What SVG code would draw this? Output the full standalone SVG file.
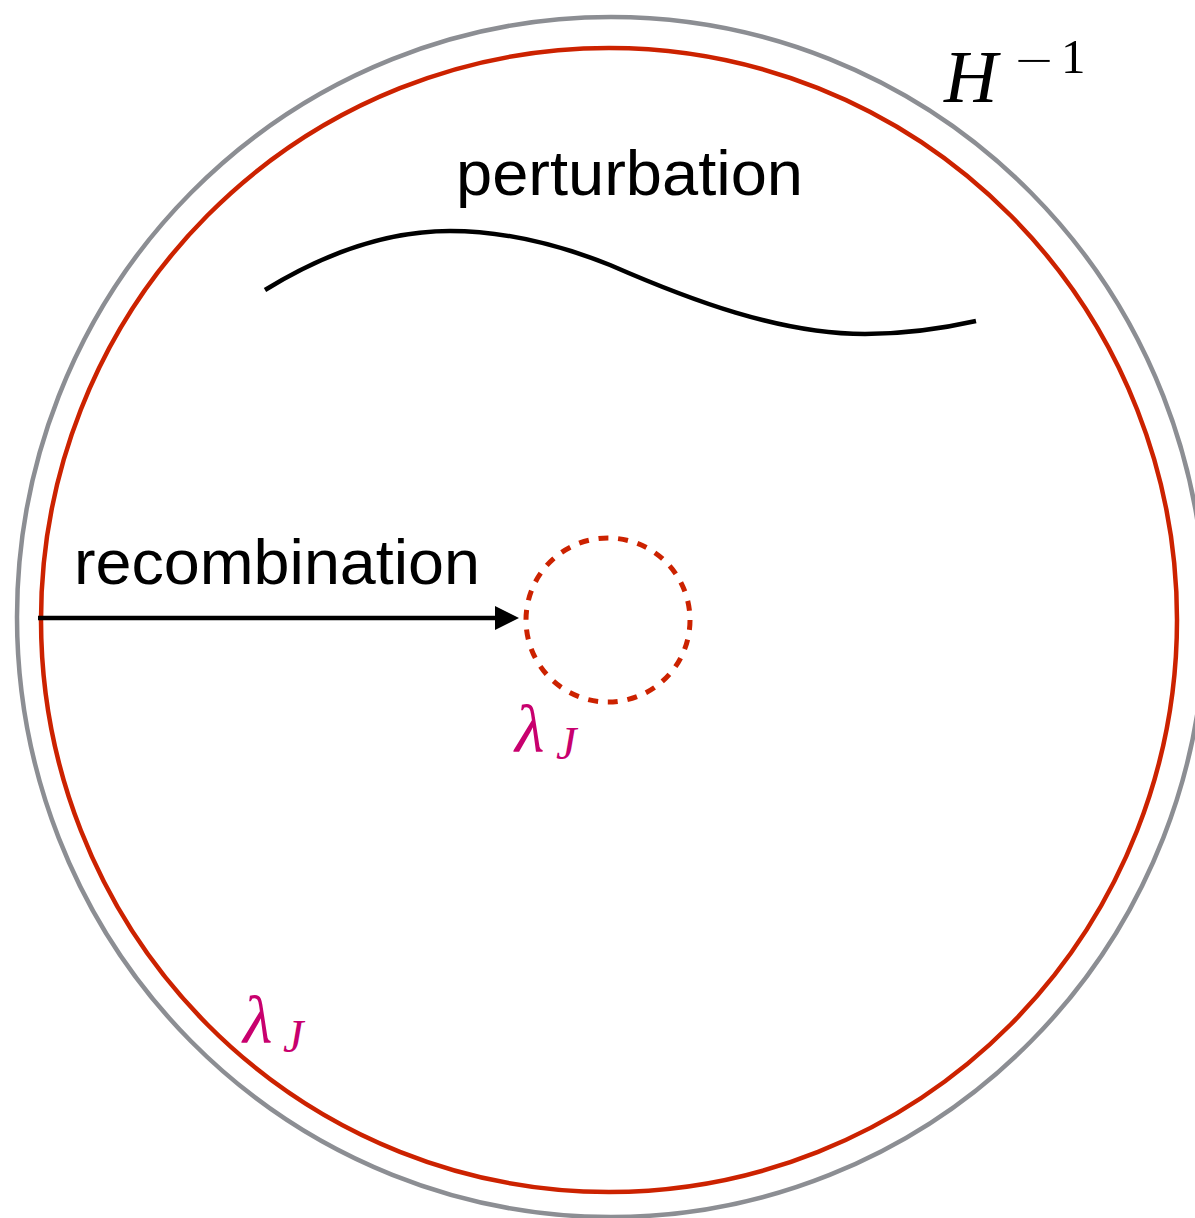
<svg xmlns="http://www.w3.org/2000/svg" width="1195" height="1218" viewBox="0 0 1195 1218">
<style>
.lbl{font-family:"Liberation Sans",Arial,sans-serif;font-size:63px;fill:#000}
.math{font-family:"Liberation Serif","Times New Roman",serif;font-style:italic}
.lam{fill:#c8006e}
</style>
<rect width="1195" height="1218" fill="#fff"/>
<g id="horizon">
<ellipse cx="611" cy="617" rx="594" ry="600" fill="none" stroke="#8c8e93" stroke-width="4.5"/>
<text class="math" x="944" y="102" font-size="74" fill="#000">H</text>
<text x="1015" y="74" font-family="Liberation Serif,serif" font-size="40" fill="#000" textLength="38" lengthAdjust="spacingAndGlyphs">−</text>
<text x="1061" y="73" font-family="Liberation Serif,serif" font-size="49" fill="#000">1</text>
</g>
<g id="jeans-outer">
<ellipse cx="609" cy="620" rx="568" ry="572" fill="none" stroke="#cc2200" stroke-width="4.5"/>
<text class="math lam" x="243" y="1043" font-size="68">λ</text>
<text class="math lam" x="283" y="1052" font-size="46">J</text>
</g>
<g id="jeans-inner">
<circle cx="608" cy="620" r="82" fill="none" stroke="#cc2200" stroke-width="5" stroke-dasharray="10 9.8"/>
<text class="math lam" x="515" y="752" font-size="68">λ</text>
<text class="math lam" x="556" y="759" font-size="46">J</text>
</g>
<g id="perturbation">
<path d="M265,290 C330,250 390,231 450,231 C510,231 565,247 610,265 C690,300 780,334 865,334 C910,334 945,328 976,321" fill="none" stroke="#000" stroke-width="4.5"/>
<text class="lbl" x="456" y="195" textLength="347" lengthAdjust="spacingAndGlyphs">perturbation</text>
</g>
<g id="recombination">
<text class="lbl" x="74" y="584" textLength="406" lengthAdjust="spacingAndGlyphs">recombination</text>
</g>
<g id="connectors">
<line x1="38" y1="618" x2="497" y2="618" stroke="#000" stroke-width="4.5"/>
<polygon points="495,606 519,618 495,630" fill="#000"/>
</g>
</svg>
